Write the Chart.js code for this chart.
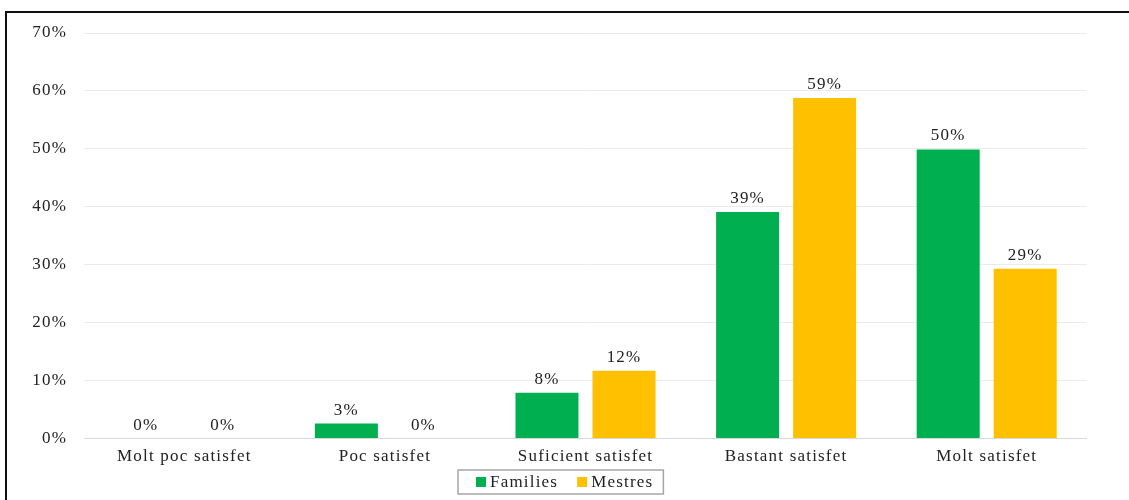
<!DOCTYPE html>
<html>
<head>
<meta charset="utf-8">
<script src="https://cdn.jsdelivr.net/npm/chart.js@4.4.0/dist/chart.umd.min.js"></script>
<style>
html,body{margin:0;padding:0;background:#fff;}
#wrap{position:relative;width:1129px;height:500px;}
#frame{position:absolute;left:5px;top:11px;right:-10px;bottom:-10px;border-left:2px solid #111;border-top:2px solid #111;pointer-events:none;}
canvas{position:absolute;left:0;top:0;}
</style>
</head>
<body>
<div id="wrap"><canvas id="c" width="1129" height="500"></canvas><div id="frame"></div></div>
<script>
const categories = ["Molt poc satisfet", "Poc satisfet", "Suficient satisfet", "Bastant satisfet", "Molt satisfet"];
const families = [0, 2.6, 7.9, 39.1, 49.9];
const mestres = [0, 0, 11.7, 58.8, 29.3];
const seriesNames = ["Families", "Mestres"];
const yTicksMax = 70;

const FONT = "'Liberation Serif', 'Times New Roman', serif";
const FS = 17;
const LS = '1.2px';

const spacing = {
  id: 'spacing',
  beforeInit(chart) { chart.ctx.letterSpacing = LS; },
  beforeUpdate(chart) { chart.ctx.letterSpacing = LS; },
  beforeDraw(chart) { chart.ctx.letterSpacing = LS; }
};

const valueLabels = {
  id: 'valueLabels',
  afterDatasetsDraw(chart) {
    const ctx = chart.ctx;
    ctx.save();
    ctx.letterSpacing = LS;
    ctx.font = FS + "px " + FONT;
    ctx.fillStyle = "#222";
    ctx.textAlign = "center";
    ctx.textBaseline = "bottom";
    chart.data.datasets.forEach((ds, i) => {
      const meta = chart.getDatasetMeta(i);
      meta.data.forEach((bar, j) => {
        ctx.fillText(Math.round(ds.data[j]) + "%", bar.x, bar.y - 5);
      });
    });
    ctx.restore();
  }
};

// Boxed legend drawn from the datasets' labels and colours
const boxedLegend = {
  id: 'boxedLegend',
  afterDraw(chart) {
    const ctx = chart.ctx;
    ctx.save();
    ctx.letterSpacing = LS;
    ctx.font = FS + "px " + FONT;
    const items = chart.data.datasets.map(d => ({ text: d.label, color: d.backgroundColor, w: ctx.measureText(d.label).width }));
    const padL = 18, sq = 10, gapT = 4, gapI = 19, padR = 10;
    let total = padL + padR;
    items.forEach((it, i) => { total += sq + gapT + it.w + (i ? gapI : 0); });
    const cx = 561;
    const top = 470, h = 24;
    const left = Math.round(cx - total / 2);
    ctx.strokeStyle = "#a6a6a6";
    ctx.lineWidth = 1.5;
    ctx.strokeRect(left, top, total, h);
    let x = left + padL;
    const cy = top + h / 2;
    ctx.textBaseline = "middle";
    ctx.textAlign = "left";
    items.forEach((it, i) => {
      if (i) x += gapI;
      ctx.fillStyle = it.color;
      ctx.fillRect(x, cy - sq / 2, sq, sq);
      x += sq + gapT;
      ctx.fillStyle = "#222";
      ctx.fillText(it.text, x, cy + 1);
      x += it.w;
    });
    ctx.restore();
  }
};

new Chart(document.getElementById('c'), {
  type: 'bar',
  data: {
    labels: categories,
    datasets: [
      { label: seriesNames[0], data: families, backgroundColor: '#00b050', categoryPercentage: 0.768, barPercentage: 0.818 },
      { label: seriesNames[1], data: mestres, backgroundColor: '#ffc000', categoryPercentage: 0.768, barPercentage: 0.818 }
    ]
  },
  options: {
    responsive: false,
    animation: false,
    devicePixelRatio: 1,
    layout: { padding: { left: 0, right: 42, top: 33, bottom: 25 } },
    plugins: {
      tooltip: { enabled: false },
      legend: { display: false }
    },
    scales: {
      x: {
        grid: { display: false, drawTicks: false },
        border: { display: false },
        ticks: { font: { family: FONT, size: FS }, color: '#222', padding: 8 }
      },
      y: {
        min: 0,
        max: yTicksMax,
        afterFit(scale) { scale.width = 84; },
        grid: {
          drawTicks: false,
          color: (c) => c.tick && c.tick.value === 0 ? '#d9d9d9' : '#ebebeb',
          lineWidth: 1
        },
        border: { display: false },
        ticks: {
          stepSize: 10,
          padding: 17,
          font: { family: FONT, size: FS },
          color: '#222',
          callback: (v) => v + '%'
        }
      }
    }
  },
  plugins: [spacing, valueLabels, boxedLegend]
});
</script>
</body>
</html>
